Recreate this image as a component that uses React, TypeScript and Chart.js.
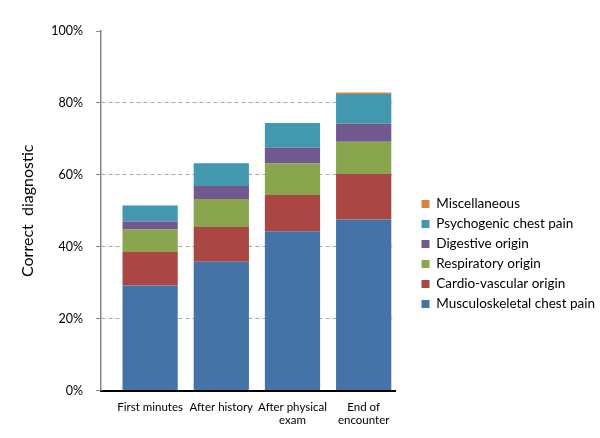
import { useEffect, useRef } from 'react';
import { Chart, registerables } from 'chart.js';

Chart.register(...registerables);

const FONT = 'Lato, "Open Sans", sans-serif';

const categories = ['First minutes', 'After history', 'After physical exam', 'End of encounter'];
const tickLabels: string[][] = [['First minutes'], ['After history'], ['After physical', 'exam'], ['End of', 'encounter']];
const seriesNames = [
  'Musculoskeletal chest pain',
  'Cardio-vascular origin',
  'Respiratory origin',
  'Digestive origin',
  'Psychogenic chest pain',
  'Miscellaneous',
];
const musculoskeletal = [29.2, 35.8, 44.3, 47.6];
const cardiovascular = [9.3, 9.7, 10.1, 12.6];
const respiratory = [6.3, 7.8, 8.8, 9.0];
const digestive = [2.2, 3.6, 4.3, 5.1];
const psychogenic = [4.5, 6.3, 6.9, 8.2];
const miscellaneous = [0, 0, 0, 0.4];
const seriesColors = ['#4572A7', '#AA4643', '#89A54E', '#71588F', '#4198AF', '#DB843D'];
const yTickValues = [0, 20, 40, 60, 80, 100];

const seriesValues = [musculoskeletal, cardiovascular, respiratory, digestive, psychogenic, miscellaneous];

export default function App() {
  const ref = useRef<HTMLCanvasElement>(null);

  useEffect(() => {
    document.body.style.margin = '0';
    Chart.defaults.font.family = FONT;
    const chart = new Chart(ref.current!, {
      type: 'bar',
      data: {
        labels: categories.map((_, i) => i + 1),
        datasets: seriesNames.map((name, i) => ({
          label: name,
          data: seriesValues[i],
          backgroundColor: seriesColors[i],
          borderWidth: 0,
          categoryPercentage: 0.8,
          barPercentage: 0.97,
        })),
      },
      options: {
        animation: false,
        responsive: false,
        layout: { padding: { top: 31, right: 0, bottom: 1, left: 0 } },
        plugins: {
          tooltip: { enabled: false },
          legend: {
            position: 'right',
            align: 'center',
            reverse: true,
            maxWidth: 185,
            title: { display: true, text: '', padding: { top: 28, bottom: 0 }, font: { size: 10 } },
            labels: {
              boxWidth: 8,
              boxHeight: 8,
              padding: 6.5,
              color: '#000',
              font: { family: FONT, size: 13.5 },
            },
          },
        },
        scales: {
          x: {
            type: 'linear',
            stacked: true,
            offset: false,
            min: 0.31,
            max: 4.44,
            grid: { display: false, drawTicks: false, offset: false },
            border: { color: '#000', width: 2 },
            ticks: {
              stepSize: 1,
              includeBounds: false,
              autoSkip: false,
              maxRotation: 0,
              padding: 10,
              color: '#000',
              font: { family: FONT, size: 11.5, lineHeight: 1.15 },
              callback: (v: any) => (Number.isInteger(v) && tickLabels[v - 1] ? tickLabels[v - 1] : ''),
            },
          },
          y: {
            stacked: true,
            min: yTickValues[0],
            max: yTickValues[yTickValues.length - 1],
            ticks: {
              stepSize: 20,
              padding: 13,
              color: '#000',
              font: { family: FONT, size: 12.5 },
              callback: (v: any) => v + '%',
            },
            grid: {
              color: (ctx: any) =>
                ctx.tick && ctx.tick.value > 0 && ctx.tick.value < 100 ? '#ababab' : 'rgba(0,0,0,0)',
              lineWidth: 1,
              tickLength: 5,
              tickColor: '#868686',
              tickBorderDash: [],
            },
            border: { color: '#868686', width: 1.5, dash: [4, 3] },
            title: {
              display: true,
              text: 'Correct  diagnostic',
              color: '#000',
              font: { family: FONT, size: 16 },
              padding: { top: 18, bottom: 0 },
            },
            afterFit: (s: any) => {
              s.width = 101;
            },
          },
          y2: {
            position: 'right',
            display: true,
            grid: { display: false, drawTicks: false },
            border: { display: false },
            ticks: { display: false },
            afterFit: (s: any) => {
              s.width = 20;
            },
          },
        },
      } as any,
    });
    return () => chart.destroy();
  }, []);

  return (
    <div style={{ width: 600, height: 438 }}>
      <canvas ref={ref} width={600} height={438} />
    </div>
  );
}
